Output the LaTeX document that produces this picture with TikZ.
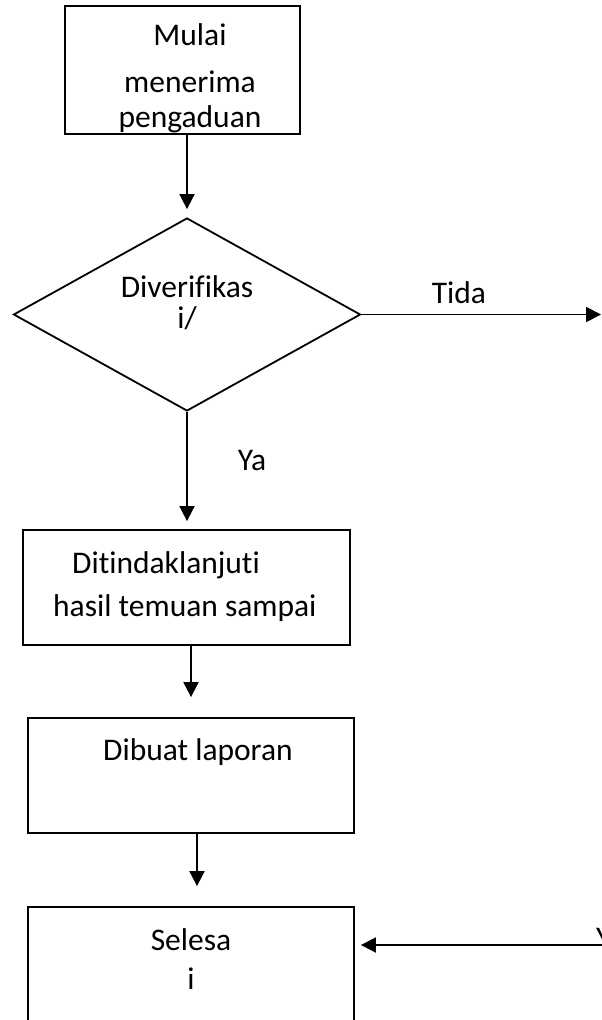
\documentclass[tikz,border=0pt]{standalone}
\usepackage{fontspec}
\setmainfont{Carlito}[Ligatures={NoCommon}]
\usetikzlibrary{arrows.meta}
\usetikzlibrary{shapes.geometric}

\tikzset{
  kotak/.style={draw, line width=1.8pt, inner sep=0pt},
  teks/.style={inner sep=0pt, font=\fontsize{31.5}{40}\selectfont},
  panah/.style={-{Triangle[length=15pt,width=15pt]}, line width=1.8pt},
}

\begin{document}
\begin{tikzpicture}[x=1pt,y=-1pt]
        \useasboundingbox (0,0) rectangle (602,1020);

        % kotak dan belah ketupat
        \node[kotak, minimum width=235pt, minimum height=128pt] (mulai) at (182.5,70) {};
        \node[kotak, diamond, minimum width=347pt, minimum height=193pt] (cek) at (187,314.5) {};
        \node[kotak, minimum width=327pt, minimum height=115pt] (tindak) at (186.5,587.5) {};
        \node[kotak, minimum width=326pt, minimum height=115pt] (laporan) at (191,775.5) {};
        \node[kotak, minimum width=326pt, minimum height=128pt] (selesai) at (191,971) {};

        \coordinate (tida) at (601,314.5);
        \coordinate (ya2) at (602,945);

        % teks
        \node[teks, align=center] (tmulai) at (190,78) {Mulai\\[7pt]menerima\\[-5pt]pengaduan};
        \node[teks, align=center, font=\fontsize{31.5}{31}\selectfont] (tcek) at (187,303) {Diverifikas\\i/};
        \node[teks, anchor=base] (ltida) at (459,303) {Tida};
        \node[teks, anchor=base] (lya) at (252,470) {Ya};
        \node[teks, align=left, anchor=west] (ttindak) at (53,587) {\hspace*{19pt}Ditindaklanjuti\\[3pt]hasil temuan sampai};
        \node[teks, anchor=base] (tlaporan) at (198,760) {Dibuat laporan};
        \node[teks, align=center, font=\fontsize{31.5}{39}\selectfont] (tselesai) at (191,959) {Selesa\\i};
        \node[teks, anchor=base west] (lya2) at (596,948) {Y};

        % panah
        \draw[panah, shorten >=8pt] (mulai.south -| cek.north) -- (cek.north);
        \draw[panah] (cek.east) -- (tida);
        \draw[panah, shorten >=8pt] (cek.south) -- (cek.south |- tindak.north);
        \draw[panah, shorten >=20pt] (laporan.north |- tindak.south) -- (laporan.north);
        \draw[panah, shorten >=20pt] ([xshift=6pt]laporan.south) -- ([xshift=6pt]selesai.north);
        \draw[panah, shorten >=6pt] (ya2) -- (ya2 -| selesai.east);

    \end{tikzpicture}
\end{document}
